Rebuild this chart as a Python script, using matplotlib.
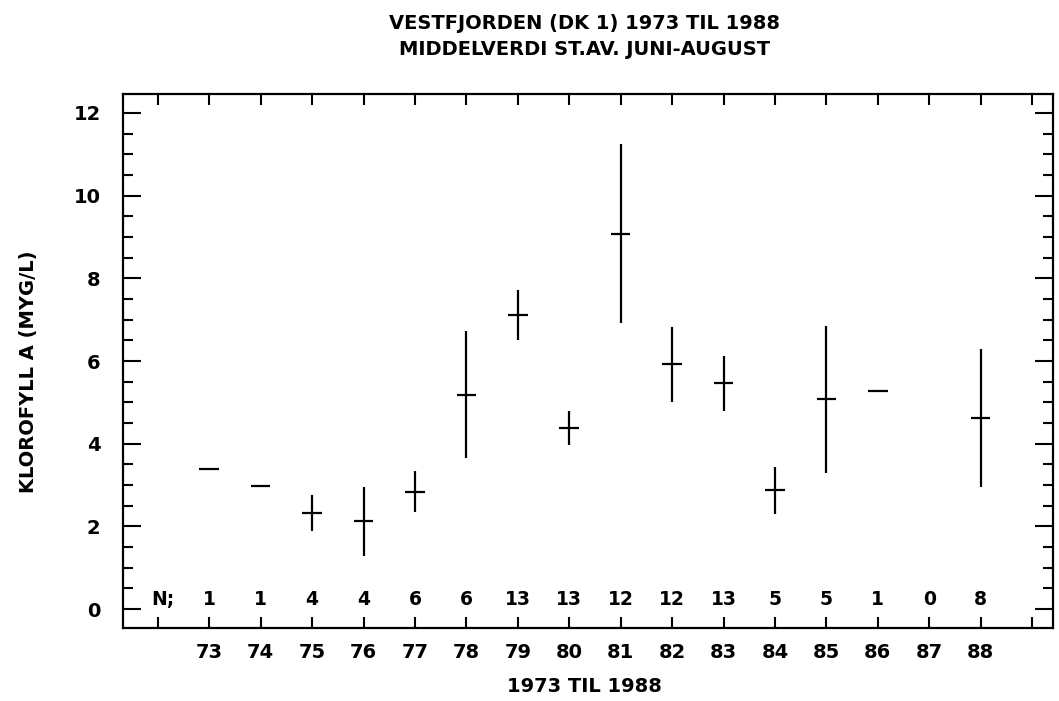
import numpy as np
import matplotlib
matplotlib.use("Agg")
import matplotlib.pyplot as plt
from matplotlib.ticker import FixedLocator, MultipleLocator, FuncFormatter

# Data (mean +/- st.dev., June-August)
years = [73, 74, 75, 76, 77, 78, 79, 80, 81, 82, 83, 84, 85, 86, 87, 88]
n_obs = [1, 1, 4, 4, 6, 6, 13, 13, 12, 12, 13, 5, 5, 1, 0, 8]
mean_chl = [3.40, 2.98, 2.32, 2.12, 2.84, 5.19, 7.11, 4.38, 9.08, 5.92,
            5.46, 2.87, 5.07, 5.28, np.nan, 4.63]
sd_chl = [0, 0, 0.43, 0.84, 0.49, 1.53, 0.61, 0.42, 2.17, 0.90,
          0.67, 0.57, 1.78, 0, np.nan, 1.67]
x_ticks = list(range(72, 90))

plt.rcParams['font.family'] = ['DejaVu Sans']
plt.rcParams['font.weight'] = 'bold'

fig = plt.figure(figsize=(10.59, 7.01), dpi=100)
ax = fig.add_axes([0.116, 0.104, 0.878, 0.762])

x = np.array(years, dtype=float)
m = np.array(mean_chl)
s = np.array(sd_chl)

# vertical st.dev. lines and horizontal mean marks
ax.vlines(x, m - s, m + s, color='black', lw=1.6)
ax.hlines(m, x - 0.19, x + 0.19, color='black', lw=1.6)

# number of observations row
ax.text(72.1, 0.24, "N;", ha='center', va='center', fontsize=13.5, fontweight='bold')
for yr, n in zip(years, n_obs):
    ax.text(yr, 0.24, str(n), ha='center', va='center', fontsize=13.5, fontweight='bold')

ax.set_xlim(71.32, 89.4)
ax.set_ylim(-0.46, 12.46)

ax.xaxis.set_major_locator(FixedLocator(x_ticks))
ax.xaxis.set_major_formatter(FuncFormatter(lambda v, p: str(int(v)) if 73 <= v <= 88 else ""))
ax.yaxis.set_major_locator(MultipleLocator(2))
ax.yaxis.set_minor_locator(MultipleLocator(0.5))

ax.tick_params(axis='x', which='major', direction='in', top=True, bottom=True,
               length=8, width=1.5, pad=11, labelsize=14)
ax.tick_params(axis='y', which='major', direction='in', left=True, right=True,
               length=13, width=1.5, pad=16, labelsize=14)
ax.tick_params(axis='y', which='minor', direction='in', left=True, right=True,
               length=7, width=1.5)
for lab in ax.get_xticklabels() + ax.get_yticklabels():
    lab.set_fontweight('bold')

for sp in ax.spines.values():
    sp.set_linewidth(1.6)

fig.text(0.552, 0.966, "VESTFJORDEN (DK 1) 1973 TIL 1988", ha='center', va='center',
         fontsize=14, fontweight='bold')
fig.text(0.552, 0.930, "MIDDELVERDI ST.AV. JUNI-AUGUST", ha='center', va='center',
         fontsize=14, fontweight='bold')
fig.text(0.552, 0.020, "1973 TIL 1988", ha='center', va='center',
         fontsize=14, fontweight='bold')
fig.text(0.027, 0.469, "KLOROFYLL A (MYG/L)", ha='center', va='center', rotation=90,
         fontsize=14, fontweight='bold')

fig.savefig("out.png", dpi=100)
